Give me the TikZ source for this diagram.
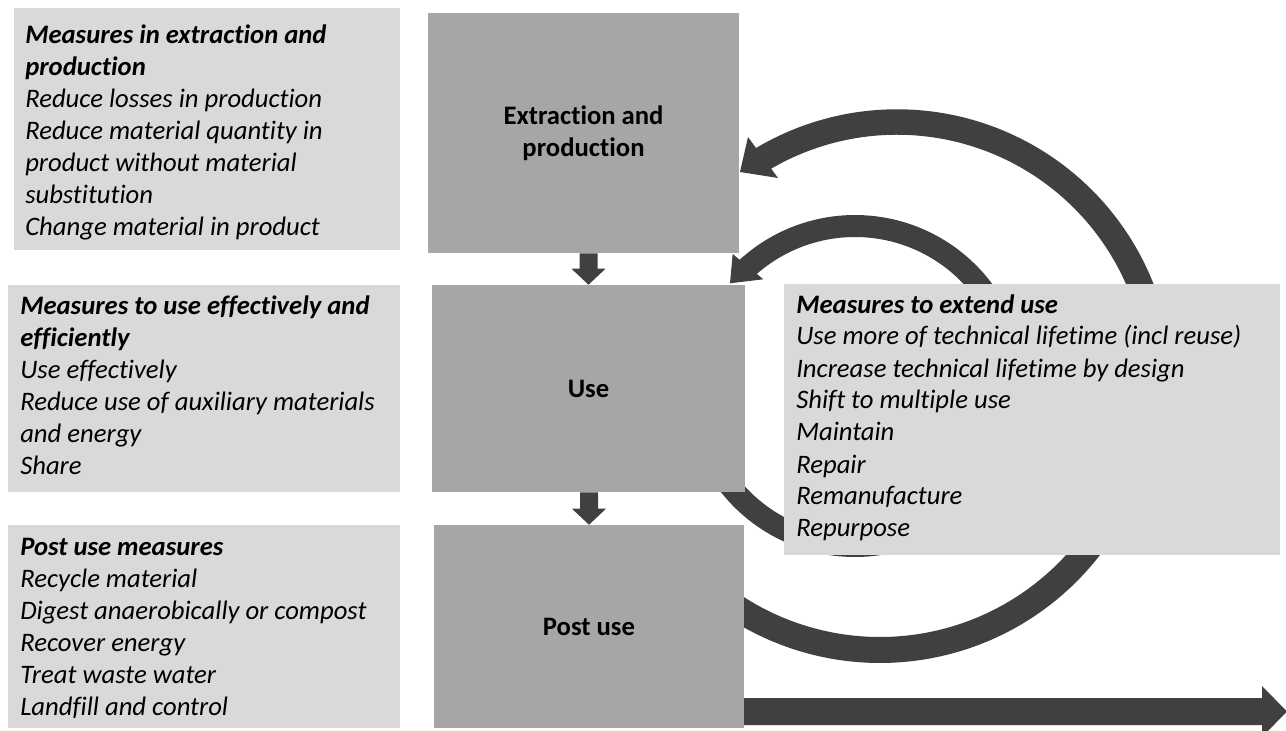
\documentclass[tikz,border=0pt]{standalone}
\usepackage{fontspec}
\setmainfont{Carlito}[Ligatures=NoCommon]
\usetikzlibrary{calc}
\pgfdeclarelayer{bg}
\pgfsetlayers{bg,main}
\definecolor{darkarrow}{HTML}{404040}
\definecolor{midgrey}{HTML}{A6A6A6}
\definecolor{lightgrey}{HTML}{D9D9D9}
% fat straight arrow from #1 to #2: shaft half width #3, head half width #4, head length #5
\newcommand{\fatarrow}[5]{%
  \path ($(#2)!#5!(#1)$) coordinate (fa-h);
  \fill[darkarrow] ($(#1)!#3!90:(#2)$) -- ($(fa-h)!#3!90:(#2)$) -- ($(fa-h)!#4!90:(#2)$) -- (#2)
     -- ($(fa-h)!#4!-90:(#2)$) -- ($(fa-h)!#3!-90:(#2)$) -- ($(#1)!#3!-90:(#2)$) -- cycle;}
\begin{document}
\begin{tikzpicture}[x=0.75pt,y=-0.75pt,
  stagebox/.style={fill=midgrey, draw=none, inner sep=0pt, align=center,
     font=\fontsize{20pt}{24pt}\selectfont\bfseries},
  measurebox/.style={fill=lightgrey, draw=none, inner sep=0pt},
  measuretext/.style={anchor=base west, inner sep=0pt,
     font=\fontsize{20pt}{24pt}\selectfont\itshape},
  band/.style={draw=darkarrow, line cap=butt},
  headfill/.style={fill=darkarrow}]
\useasboundingbox (0,0) rectangle (1286,731);

% measure boxes
\node[measurebox, minimum width=289.5pt, minimum height=181.5pt] (m1) at (207,129) {};
\node[measurebox, minimum width=294pt, minimum height=155.25pt] (m2) at (204,388.5) {};
\node[measurebox, minimum width=294pt, minimum height=152.25pt] (m3) at (204,626.5) {};
\node[measurebox, minimum width=372pt, minimum height=203.25pt] (m4) at (1032,419.5) {};

\node[measuretext] (t1) at (25,43.5) {\begin{tabular}[t]{@{}l@{}}\textbf{Measures in extraction and}\\\textbf{production}\\Reduce losses in production\\Reduce material quantity in\\product without material\\substitution\\Change material in product\end{tabular}};
\node[measuretext] (t2) at (20,315) {\begin{tabular}[t]{@{}l@{}}\textbf{Measures to use effectively and}\\\textbf{efficiently}\\Use effectively\\Reduce use of auxiliary materials\\and energy\\Share\end{tabular}};
\node[measuretext] (t3) at (20,555) {\begin{tabular}[t]{@{}l@{}}\textbf{Post use measures}\\Recycle material\\Digest anaerobically or compost\\Recover energy\\Treat waste water\\Landfill and control\end{tabular}};
\node[measuretext] (t4) at (796,313) {\begin{tabular}[t]{@{}l@{}}\textbf{Measures to extend use}\\Use more of technical lifetime (incl reuse)\\Increase technical lifetime by design\\Shift to multiple use\\Maintain\\Repair\\Remanufacture\\Repurpose\end{tabular}};

% stage boxes
\node[stagebox, minimum width=233.25pt, minimum height=180pt] (ext) at (583.5,133) {Extraction and\\production};
\node[stagebox, minimum width=234.75pt, minimum height=155.25pt] (use) at (588.5,388.5) {Use};
\node[stagebox, minimum width=232.5pt, minimum height=152.25pt] (post) at (589,626.5) {Post use};

\begin{pgfonlayer}{bg}
  % straight arrows
  \coordinate (a1s) at (use.north |- ext.south);
  \fatarrow{a1s}{use.north}{6.75pt}{12.75pt}{12pt}
  \coordinate (a2s) at (post.north |- use.south);
  \fatarrow{a2s}{post.north}{6.75pt}{12.75pt}{12pt}
  \coordinate (outtip) at (1287,711.5);
  \coordinate (outstart) at ($(post.east |- outtip)+(-6,0)$);
  \fatarrow{outstart}{outtip}{10.125pt}{19.125pt}{18.75pt}

  % outer loop: post use -> extraction and production
  \draw[band, line width=19.5pt] plot[domain=-10:128, samples=140] ({880+265*cos(\x)},{385+265*sin(\x)});
  \draw[band, line width=19.1pt] plot[domain=-121.5:10, samples=140] ({897+263*cos(\x)},{385+263*sin(\x)});
  \coordinate (oh1) at (748,137);
  \coordinate (oh2) at (778,178);
  \coordinate (ohtip) at (740,172);
  \fill[headfill] (oh1) -- (oh2) -- (ohtip) -- cycle;

  % inner loop: use -> use
  \draw[band, line width=16.5pt] plot[domain=-133:150, samples=160] ({855+160*cos(\x)},{386+160*sin(\x)});
  \coordinate (ih1) at (732.7,254);
  \coordinate (ih2) at (763.3,279.3);
  \coordinate (ihtip) at (730,283.3);
  \fill[headfill] (ih1) -- (ih2) -- (ihtip) -- cycle;
\end{pgfonlayer}
\end{tikzpicture}
\end{document}
